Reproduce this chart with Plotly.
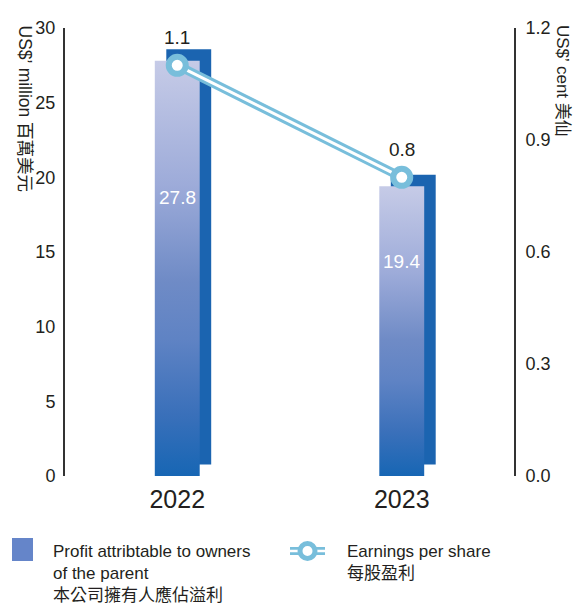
import plotly.graph_objects as go

# ---------------- data ----------------
years = ["2022", "2023"]
profit = [27.8, 19.4]            # US$ million
eps = [1.1, 0.8]                 # US cent
profit_labels = ["27.8", "19.4"]
eps_labels = ["1.1", "0.8"]
left_ticks = [0, 5, 10, 15, 20, 25, 30]
right_ticks = [0.0, 0.3, 0.6, 0.9, 1.2]
right_tick_text = ["0.0", "0.3", "0.6", "0.9", "1.2"]
left_title = "US$’ million 百萬美元"
right_title = "US$’ cent 美仙"
legend_profit = "Profit attribtable to owners<br>of the parent<br>本公司擁有人應佔溢利"
legend_eps = "Earnings per share<br>每股盈利"

# ---------------- layout constants ----------------
W, H = 579, 604
L, R, T, B = 65, 65, 28, 128
PW, PH = W - L - R, H - T - B
YMAX, Y2MAX = 30, 1.2
XMIN, XMAX = -0.5, 1.5
FONT = "Liberation Sans, Arial, Noto Sans CJK TC, sans-serif"
TXT = "#231f20"
BLUE_LINE = "#78bedb"
SHADOW = "#1b64b0"
GRAD = [[0.0, "#1766b4"], [0.15, "#3a70ba"], [0.33, "#5f83c4"], [0.47, "#6f8bc6"],
        [0.7, "#9dabd9"], [1.0, "#c6cbe7"]]

bar_w = 0.2
depth_px = 11.5
dx = depth_px / PW * (XMAX - XMIN)
dy = depth_px / PH * YMAX
xpos = list(range(len(years)))
label_frac = [0.67, 0.74]   # where the value label sits inside each bar


def px_x(p):
    return (p - L) / PW


def px_y(p):
    return (H - B - p) / PH


fig = go.Figure()

# 3D "depth" bars behind
fig.add_trace(go.Bar(
    x=[x + dx for x in xpos], y=profit, base=dy, width=bar_w,
    marker=dict(color=SHADOW, line=dict(width=0)),
    showlegend=False, hoverinfo="skip"))

# front bars with vertical gradient
for x, v in zip(xpos, profit):
    fig.add_trace(go.Scatter(
        x=[x - bar_w / 2, x + bar_w / 2, x + bar_w / 2, x - bar_w / 2, x - bar_w / 2],
        y=[0, 0, v, v, 0], mode="lines", fill="toself",
        line=dict(width=0, color="rgba(0,0,0,0)"),
        fillgradient=dict(type="vertical", colorscale=GRAD, start=0, stop=v),
        showlegend=False, hoverinfo="skip"))

# EPS double line
fig.add_trace(go.Scatter(x=xpos, y=eps, yaxis="y2", mode="lines",
                         line=dict(color=BLUE_LINE, width=9),
                         showlegend=False, hoverinfo="skip"))
fig.add_trace(go.Scatter(x=xpos, y=eps, yaxis="y2", mode="lines",
                         line=dict(color="white", width=3),
                         showlegend=False, hoverinfo="skip"))
fig.add_trace(go.Scatter(x=xpos, y=eps, yaxis="y2", mode="markers",
                         marker=dict(size=17, color="white",
                                     line=dict(color=BLUE_LINE, width=6)),
                         showlegend=False, hoverinfo="skip"))

annotations = []
# bar value labels
for x, v, t, f in zip(xpos, profit, profit_labels, label_frac):
    annotations.append(dict(x=x, y=v * f, xref="x", yref="y", text=t,
                            showarrow=False, font=dict(size=19, color="white", family=FONT)))
# eps labels
for x, v, t in zip(xpos, eps, eps_labels):
    annotations.append(dict(x=x, y=v, xref="x", yref="y2", text=t, yshift=28,
                            showarrow=False, font=dict(size=19, color=TXT, family=FONT)))
# axis titles (rotated, reading top to bottom)
annotations.append(dict(x=px_x(25), y=px_y(23), xref="paper", yref="paper",
                        text=left_title, textangle=90, showarrow=False,
                        xanchor="center", yanchor="top",
                        font=dict(size=17.5, color=TXT, family=FONT)))
annotations.append(dict(x=px_x(563), y=px_y(23), xref="paper", yref="paper",
                        text=right_title, textangle=90, showarrow=False,
                        xanchor="center", yanchor="top",
                        font=dict(size=17, color=TXT, family=FONT)))
# legend texts
annotations.append(dict(x=px_x(51), y=px_y(540), xref="paper", yref="paper",
                        text=legend_profit, showarrow=False, align="left",
                        xanchor="left", yanchor="top",
                        font=dict(size=17, color=TXT, family=FONT)))
annotations.append(dict(x=px_x(345), y=px_y(540), xref="paper", yref="paper",
                        text=legend_eps, showarrow=False, align="left",
                        xanchor="left", yanchor="top",
                        font=dict(size=17, color=TXT, family=FONT)))

shapes = [
    # legend square
    dict(type="rect", xref="paper", yref="paper",
         x0=px_x(12), x1=px_x(33), y0=px_y(538), y1=px_y(561),
         fillcolor="#6585c9", line=dict(width=0)),
    # legend double line
    dict(type="line", xref="paper", yref="paper",
         x0=px_x(290), x1=px_x(325), y0=px_y(551), y1=px_y(551),
         line=dict(color=BLUE_LINE, width=8)),
    dict(type="line", xref="paper", yref="paper",
         x0=px_x(290), x1=px_x(325), y0=px_y(551), y1=px_y(551),
         line=dict(color="white", width=2.5)),
    dict(type="circle", xref="paper", yref="paper",
         xsizemode="pixel", ysizemode="pixel",
         xanchor=px_x(307.5), yanchor=px_y(551),
         x0=-7.5, x1=7.5, y0=-7.5, y1=7.5,
         fillcolor="white", line=dict(color=BLUE_LINE, width=5)),
]

fig.update_layout(
    width=W, height=H,
    margin=dict(l=L, r=R, t=T, b=B, pad=0),
    paper_bgcolor="white", plot_bgcolor="white",
    showlegend=False, barmode="overlay", hovermode=False,
    font=dict(family=FONT, color=TXT),
    xaxis=dict(range=[XMIN, XMAX], tickvals=xpos, ticktext=years,
               showline=False, showgrid=False, zeroline=False, ticks="",
               tickfont=dict(size=25, color=TXT), ticklabelstandoff=6,
               automargin=False, fixedrange=True),
    yaxis=dict(range=[0, YMAX], tickvals=left_ticks, showline=True,
               linecolor="#333333", linewidth=2, ticks="", showgrid=False,
               zeroline=False, tickfont=dict(size=18, color=TXT),
               ticklabelstandoff=4, automargin=False, fixedrange=True),
    yaxis2=dict(range=[0, Y2MAX], tickvals=right_ticks, ticktext=right_tick_text,
                overlaying="y", side="right", showline=True,
                linecolor="#333333", linewidth=2, ticks="", showgrid=False,
                zeroline=False, tickfont=dict(size=18, color=TXT),
                ticklabelstandoff=6, automargin=False, fixedrange=True),
    annotations=annotations, shapes=shapes,
)

fig.write_html(
    "out.html",
    config={"displayModeBar": False, "staticPlot": True},
    post_script="document.body.style.margin='0';document.body.style.overflow='hidden';",
)
